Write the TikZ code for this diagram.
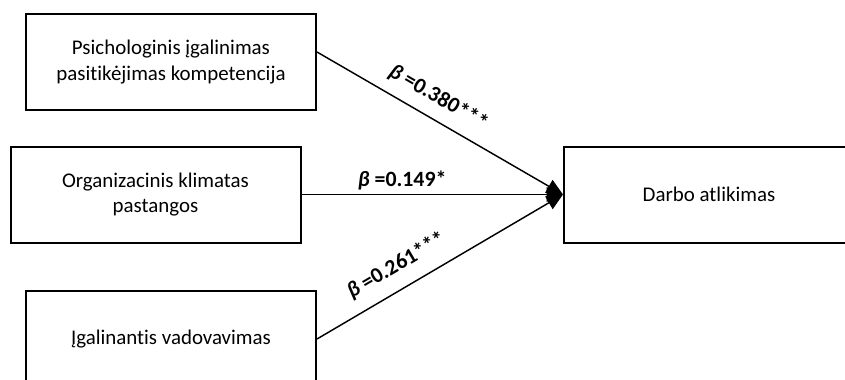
\documentclass[tikz,border=0pt]{standalone}
\usepackage{fontspec}
\setmainfont{Carlito}[RawFeature=-liga]
\usetikzlibrary{positioning,arrows.meta}

\begin{document}
\begin{tikzpicture}[
  x=0.55pt, y=-0.55pt, >={Triangle[length=9pt,width=8pt]},
  box/.style={draw,line width=1.1pt,align=center,minimum width=159.5pt,minimum height=52.8pt,font=\fontsize{11.5}{13.8}\selectfont},
  path/.style={->,line width=0.8pt},
  coef/.style={font=\fontsize{12}{14}\selectfont\bfseries,inner sep=2pt}]
\useasboundingbox (0,0) rectangle (845,380);
\clip (0,0) rectangle (845,380);
% predictors
\node[box] (psi) at (171,62) {Psichologinis įgalinimas\\pasitikėjimas kompetencija};
\node[box] (org) at (155.5,194.5) {Organizacinis klimatas\\pastangos};
\node[box] (vad) at (171,339) {Įgalinantis vadovavimas};
% outcome
\node[box] (darbo) at (709,194.5) {Darbo atlikimas};
% paths with coefficients
\draw[path] ([yshift=5.5pt]psi.east) -- node[coef,sloped,above=4pt,pos=0.45] {\textit{β} =0.380***} (darbo.west);
\draw[path] (org) -- node[coef,above,pos=0.385] {\textit{β} =0.149*} (darbo.west);
\draw[path] (vad.east) -- node[coef,sloped,above=5pt,pos=0.37] {\textit{β} =0.261***} (darbo.west);
\end{tikzpicture}
\end{document}
